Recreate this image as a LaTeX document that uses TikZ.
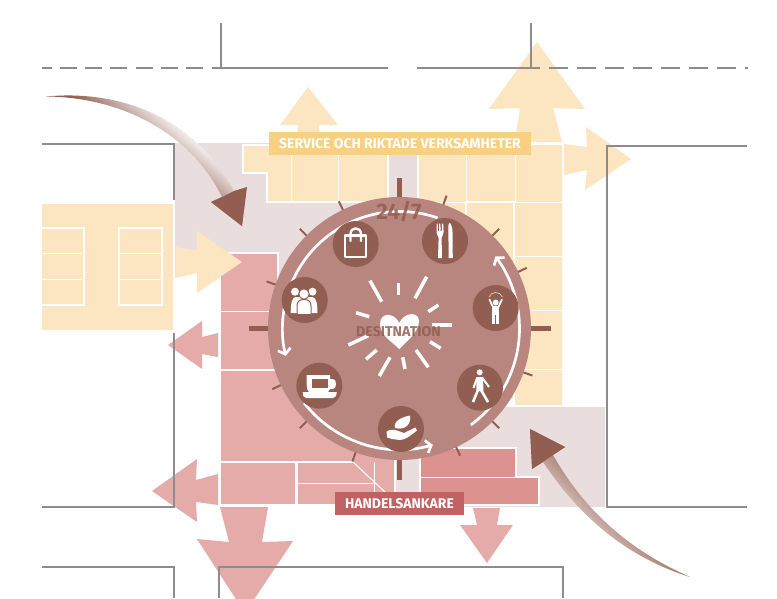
\documentclass[tikz,border=0pt]{standalone}
\usepackage{fontspec}
\setmainfont{Fira Sans}
\usetikzlibrary{arrows.meta}
\definecolor{cream}{RGB}{251,230,193}
\definecolor{pinkblk}{RGB}{229,171,169}
\definecolor{roseblk}{RGB}{220,146,143}
\definecolor{palearea}{RGB}{233,222,221}
\definecolor{ringcol}{RGB}{184,134,126}
\definecolor{darkcol}{RGB}{146,94,81}
\definecolor{yellowlbl}{RGB}{248,208,128}
\definecolor{redlbl}{RGB}{192,98,100}
\definecolor{wallcol}{RGB}{140,140,140}
\pgfdeclareverticalshading{shaftfade}{100bp}{color(0bp)=(darkcol); color(46bp)=(darkcol); color(69bp)=(white); color(100bp)=(white)}
\pgfdeclareverticalshading{shaftfadelong}{100bp}{color(0bp)=(darkcol); color(50bp)=(darkcol); color(65bp)=(white); color(100bp)=(white)}
\tikzset{
  wall/.style    ={draw=wallcol, line width=2pt},
  cellthin/.style={draw=white, line width=1pt},
  cellbold/.style={draw=white, line width=2.4pt},
  crm/.style     ={fill=cream},
  pnk/.style     ={fill=pinkblk},
  tagbox/.style  ={text=white, font=\bfseries\fontsize{14}{15}\selectfont, inner sep=0pt,
                   minimum height=23pt},
  tick/.style    ={draw=darkcol, line width=2pt},
  bigtick/.style ={draw=darkcol, line width=5pt},
  ray/.style     ={draw=white, line width=3.5pt},
  ringarc/.style ={draw=white, line width=2.7pt, -{Straight Barb[length=5pt,width=13pt,line width=2.7pt]}},
  iconbg/.style  ={circle, fill=darkcol, minimum size=46pt, inner sep=0pt},
  icon/.style    ={fill=white},
  iconln/.style  ={draw=white, line width=2.4pt, line cap=round, line join=round},
  ringtxt/.style ={text=darkcol, text opacity=0.85, inner sep=0pt},
}
\begin{document}
\begin{tikzpicture}[x=1pt,y=-1pt]
\clip (0,0) rectangle (777,598);
\fill[white] (0,0) rectangle (777,598);

% pale ground
\fill[palearea] (175,143) -- (418,143) -- (418,407) -- (605,407) -- (605,507) -- (395,507)
   -- (395,490) -- (219,490) -- (219,262) -- (175,262) -- cycle;

% cream blocks, top
\filldraw[crm,cellbold] (243,145) -- (388,145) -- (388,202) -- (267,202) -- (267,173) -- (243,173) -- cycle;
\draw[cellthin] (291,145) -- (291,202);
\draw[cellthin] (338,145) -- (338,202);
\filldraw[crm,cellbold] (418,144) -- (563,144) -- (563,406) -- (514,406) -- (514,400) -- (418,400) -- cycle;
\draw[cellthin] (466,144) -- (466,202);
\draw[cellthin] (515,144) -- (515,202);
\draw[cellthin] (418,202) -- (563,202);
\draw[cellbold] (466,202) -- (514,202) -- (514,406) -- (565,406);
\draw[cellbold] (466,202) -- (466,240);
\draw[cellthin] (515,256) -- (563,256);
\draw[cellthin] (515,310) -- (563,310);
\draw[cellthin] (515,369) -- (563,369);

% cream block, left
\fill[crm] (42,204) rectangle (173,330);
\draw[cellbold] (42,228) -- (84,228) -- (84,305) -- (42,305);
\draw[cellbold] (119,228) rectangle (162,305);
\draw[cellthin] (42,253) -- (84,253);
\draw[cellthin] (42,279) -- (84,279);
\draw[cellthin] (119,253) -- (162,253);
\draw[cellthin] (119,279) -- (162,279);

% pink blocks
\filldraw[pnk,cellbold] (220,253) -- (278,253) -- (278,369) -- (395,369) -- (395,505) -- (220,505) -- cycle;
\draw[cellthin] (220,311) -- (278,311);
\draw[cellbold] (220,370) -- (278,370);
\draw[cellbold] (220,462) -- (353,462);
\draw[cellbold] (296.5,462) -- (296.5,505);
\draw[cellthin] (297,483) -- (375,483);
\draw[cellthin] (374,462) -- (374,492);
\draw[cellthin] (353,462) -- (385,492);
\filldraw[fill=roseblk,cellbold] (420,448) -- (516,448) -- (516,477) -- (539,477) -- (539,505) -- (420,505) -- cycle;
\draw[cellthin] (420,477) -- (516,477);

% flow arrows, cream
\fill[crm] (297,135) -- (298,125) -- (280,125) -- (308,87) -- (338,125) -- (319,125) -- (320,135) -- cycle;
\fill[crm] (515,142) -- (520,108) -- (489,109) -- (537,42) -- (585,109) -- (553,108) -- (562,142) -- cycle;
\fill[crm] (564,144) -- (587,147) -- (586,127) -- (631,159) -- (585,190) -- (587,170) -- (564,175) -- cycle;
\fill[crm] (175,247) -- (197,250) -- (197,231) -- (242,262) -- (197,293) -- (197,273) -- (175,278) -- cycle;

% flow arrows, pink
\fill[pnk] (218,333) -- (202,337) -- (202,321) -- (168,345) -- (202,369) -- (202,354) -- (218,357) -- cycle;
\fill[pnk] (218,474) -- (196,480) -- (197,459) -- (152,491) -- (197,522) -- (196,502) -- (218,505) -- cycle;
\fill[pnk] (220,507) -- (268,507) -- (262,542) -- (293,541) -- (245,613) -- (197,539) -- (229,542) -- cycle;
\fill[pnk] (473,508) -- (500,508) -- (497,525) -- (513,525) -- (487,563) -- (460,525) -- (477,525) -- cycle;

% walls
\draw[wall] (221,23) -- (221,67.5);
\draw[wall] (531,23) -- (531,67.5);
\draw[wall] (212,67.5) -- (388,67.5);
\draw[wall] (417,67.5) -- (540,67.5);
\draw[wall,dash pattern=on 17pt off 8.3pt] (203.3,67.5) -- (42,67.5);
\draw[wall,dash pattern=on 19pt off 9pt] (549,67.5) -- (747.5,67.5);
\draw[wall] (42,144) -- (174,144) -- (174,200);
\draw[wall] (174,333) -- (174,507) -- (42,507);
\draw[wall] (42,567) -- (174,567) -- (174,598);
\draw[wall] (219,598) -- (219,567) -- (563,567) -- (563,598);
\draw[wall] (747,146) -- (607,146) -- (607,507) -- (747,507);

% curved arrows
\shade[shading=shaftfadelong,shading angle=-40]
  (46,96.5) .. controls (115,90) and (192,113) .. (234,191) -- (247,187) -- (242,226) -- (211,202) -- (222,197)
  .. controls (190,132) and (120,97) .. (46,96.5) -- cycle;
\fill[darkcol] (234,191) -- (247,187) -- (242,226) -- (211,202) -- (222,197) -- cycle;
\shade[shading=shaftfade,shading angle=135]
  (690,577) .. controls (640,555) and (590,520) .. (553,455) -- (565,447) -- (530,429) -- (532,469) -- (543,462)
  .. controls (575,510) and (620,555) .. (690,577) -- cycle;
\fill[darkcol] (553,455) -- (565,447) -- (530,429) -- (532,469) -- (543,462) -- cycle;

% disc with ticks, rays and ring arcs
\begin{scope}[shift={(399.5,328.5)}]
\foreach \a in {0,90,180,270} {
  \draw[bigtick] (\a:128) -- (\a:151);
  \foreach \b in {19.5,45,64.5}
    \draw[tick] (\a+\b-90:128) -- (\a+\b-90:141);
}
\fill[ringcol] (0,0) circle (131.5);
\draw[ringarc] (53.5:120) arc[start angle=53.5,end angle=-37,radius=120];
\draw[ringarc] (142:121) arc[start angle=142,end angle=74,radius=121];
\draw[ringarc] (-71:117) arc[start angle=-71,end angle=-193.5,radius=117];
\end{scope}
\foreach \xa/\ya/\xb/\yb in {370/280.7/381.7/301.7, 398.7/283.3/398.7/295, 426.7/276.7/415/298.3,
    438.3/305/428.3/311.7, 356/312.7/369.3/316.7, 431.7/325/451.7/325, 348.3/345/368.3/335.7,
    430/341.7/440.7/348.3, 376.7/350/366/359.3, 390/357.3/379.3/376, 402.7/357.3/405/369, 416/350/428.3/367.3}
  \draw[ray] (\xa,\ya) -- (\xb,\yb);

% heart
\fill[white] (399.3,323) .. controls (394,312) and (380,312) .. (380,324) .. controls (380,335) and (392,342) .. (399.3,349)
   .. controls (406,342) and (419,332) .. (419,321) .. controls (419,311) and (404,312) .. (399.3,323) -- cycle;

% bag
\node[iconbg] (bagicon) at (355.7,244) {};
\draw[iconln] (344.8,235.5) rectangle (366.2,257);
\draw[iconln] (350.5,241) -- (350.5,234) .. controls (350.5,226.5) and (361,226.5) .. (361,234) -- (361,241);

% fork and knife
\node[iconbg] (forkicon) at (445,241) {};
\fill[icon] (436.7,223.5) -- (437.7,223.5) -- (437.9,231) -- (439,231) -- (439.2,223.5) -- (440.4,223.5) -- (440.6,231)
   -- (441.8,231) -- (442,223.5) -- (443.2,223.5) -- (443.6,232) .. controls (443.6,235) and (441.6,236) .. (441.6,238)
   -- (442,258) -- (438,258) -- (438.6,238) .. controls (438.6,236) and (436.5,235) .. (436.5,232) -- cycle;
\fill[icon] (450,223) .. controls (453,226) and (453,238) .. (452.5,240) -- (452.8,258) -- (448.6,258) -- (448.4,226) .. controls (448.4,224) and (449,223) .. (450,223) -- cycle;

% person with raised arms
\node[iconbg] (stretchicon) at (495.7,308) {};
\fill[icon] (495.7,302.5) circle (3);
\draw[iconln,line width=1.8pt] (489.5,299.5) -- (493,307) -- (498.4,307) -- (501.9,299.5);
\fill[icon] (492.2,306) rectangle (499.2,315);
\fill[icon] (492.2,314) rectangle (495.2,324);
\fill[icon] (496.2,314) rectangle (499.2,324);
\draw[white!80!darkcol,line width=0.6pt] (489,297) .. controls (491,291) and (500,291) .. (502.5,297);

% people
\node[iconbg] (groupicon) at (304.7,300) {};
\fill[icon] (295,291.7) circle (4);
\fill[icon] (312.5,291.7) circle (4);
\fill[icon] (290.7,313) .. controls (290.7,303) and (292,297) .. (296,297) -- (312,297) .. controls (316,297) and (317.5,303) .. (317.5,313) -- cycle;
\filldraw[fill=white,draw=darkcol,line width=1pt] (304,294) circle (5.2);
\filldraw[fill=white,draw=darkcol,line width=1pt] (297,314.5) -- (297,306) .. controls (297,301) and (300,299.5) .. (304,299.5)
   .. controls (308,299.5) and (311,301) .. (311,306) -- (311,314.5) -- cycle;

% coffee cup
\node[iconbg] (cupicon) at (319.3,385.7) {};
\fill[icon] (306.7,375) -- (330,375) -- (330,379) -- (333,379) .. controls (337,379) and (337,389) .. (333,389) -- (330,389)
   -- (328,392) -- (309,392) .. controls (307,390) and (306.7,388) .. (306.7,385) -- cycle;
\fill[darkcol] (311.7,379) rectangle (328,388);
\fill[icon] (302.7,392) -- (336.7,392) .. controls (336.7,396) and (335,398) .. (333,398) -- (306,398) .. controls (304,398) and (302.7,396) .. (302.7,392) -- cycle;

% walking figure
\node[iconbg] (walkicon) at (480,387.7) {};
\fill[icon] (479.7,372.3) circle (3);
\fill[icon] (476.3,377) -- (483,377) -- (483.5,391) -- (476.5,391) -- cycle;
\draw[iconln,line cap=butt,line width=2pt] (477,378) -- (473.5,388);
\draw[iconln,line cap=butt,line width=2pt] (482.5,378) -- (489,387);
\draw[iconln,line cap=butt,line width=2.6pt] (478,390) -- (473,402);
\draw[iconln,line cap=butt,line width=2.6pt] (481,390) -- (488,402);

% hand and leaf
\node[iconbg] (handicon) at (401,429) {};
\fill[icon] (395,428) .. controls (393,421) and (402,417) .. (410,415.5) .. controls (411.5,423) and (406,431) .. (395,428) -- cycle;
\fill[icon] (386.5,431.5) .. controls (390,428.5) and (396,430) .. (400,431.5) -- (404,433) -- (415.5,427.5) -- (417,430.5)
   .. controls (410,436) and (405,440) .. (400,440) -- (392,439) -- (387,437.5) -- cycle;

% labels
\node[ringtxt,font=\bfseries\fontsize{22.5}{24}\selectfont] (allday) at (399,212) {24/7};
\node[ringtxt,font=\bfseries\fontsize{14.2}{15}\selectfont] (dest) at (398.5,331.5) {DESITNATION};
\node[tagbox,fill=yellowlbl,minimum width=262pt] (service) at (400,143.5) {SERVICE OCH RIKTADE VERKSAMHETER};
\node[tagbox,fill=redlbl,minimum width=129pt] (handel) at (399.5,503.5) {HANDELSANKARE};
\end{tikzpicture}
\end{document}
